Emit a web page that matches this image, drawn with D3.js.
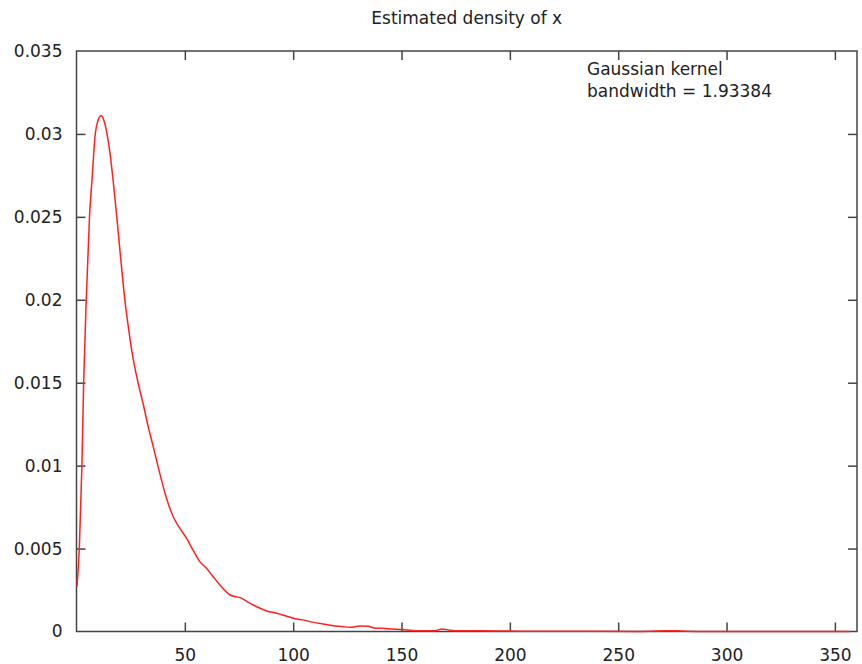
<!DOCTYPE html>
<html>
<head>
<meta charset="utf-8">
<script src="https://cdn.jsdelivr.net/npm/d3@7"></script>
<style>
  html, body { margin: 0; padding: 0; background: #fff; }
  svg { display: block; }
  text { font-family: "DejaVu Sans", sans-serif; fill: #222; }
</style>
</head>
<body>
<svg id="chart" width="862" height="664"></svg>
<script>
// ---- data ----
const xValues = [0.2, 1.3, 2.5, 3.3, 4.5, 6.0, 7.3, 8.5, 9.9, 11.3, 12.7, 14.1, 15.5, 16.9, 18.6, 20.1,
  22.4, 24.2, 26.2, 28.4, 30.8, 33.0, 35.5, 38.5, 41.6, 44.7, 47.8, 50.9, 53.8, 57.0, 60.1, 63.1, 66.2,
  70.9, 73.6, 76.3, 78.7, 81.6, 84.7, 87.8, 92.4, 96.2, 100.1, 104.5, 109.3, 113.8, 118.5, 122.5, 126.2,
  130.9, 134.5, 138.2, 141.0, 145.6, 150.5, 154.9, 159.0, 165.5, 168.7, 172.2, 177.0, 185.3, 195.5,
  204.7, 213.9, 223.2, 232.4, 241.6, 260.1, 271.6, 275.3, 279.0, 287.8, 310.8, 333.9, 357.0];
const densityValues = [0.0027, 0.0050, 0.0100, 0.0150, 0.0200, 0.0250, 0.0275, 0.0298, 0.0308, 0.0311,
  0.0308, 0.0300, 0.0288, 0.0272, 0.0250, 0.0229, 0.0199, 0.0181, 0.0164, 0.0150, 0.0137, 0.0124,
  0.0111, 0.0095, 0.0080, 0.0069, 0.0062, 0.0056, 0.0049, 0.0042, 0.0038, 0.0033, 0.0028,
  0.00220, 0.00210, 0.00200, 0.00180, 0.00160, 0.00140, 0.00124, 0.00110, 0.00095, 0.00080, 0.00070,
  0.00055, 0.00045, 0.00035, 0.00030, 0.00025, 0.00033, 0.00031, 0.00020, 0.00020, 0.00015, 0.00012,
  0.00006, 0.00004, 0.00005, 0.00015, 0.00008, 0.00004, 0.00004, 0.00003, 0.00002, 0.00001, 0.00001,
  0.00001, 0.00001, 0.000005, 0.00004, 0.00005, 0.00003, 0.000005, 0.000003, 0.000002, 0.000002];
const xTicks = [50, 100, 150, 200, 250, 300, 350];
const yTicks = [0, 0.005, 0.01, 0.015, 0.02, 0.025, 0.03, 0.035];
const yTickLabels = ["0", "0.005", "0.01", "0.015", "0.02", "0.025", "0.03", "0.035"];
const titleText = "Estimated density of x";
const legendLines = ["Gaussian kernel", "bandwidth = 1.93384"];

// ---- layout ----
const svg = d3.select("#chart");
const pLeft = 76.5, pRight = 857, pTop = 51, pBottom = 631.5;
const x = d3.scaleLinear().domain([0, 360.2]).range([pLeft, pRight]);
const y = d3.scaleLinear().domain([0, 0.035]).range([pBottom, pTop]);
const tickLen = 9;
const fs = 17;

// border
svg.append("rect")
  .attr("x", pLeft).attr("y", pTop)
  .attr("width", pRight - pLeft).attr("height", pBottom - pTop)
  .attr("fill", "none").attr("stroke", "#444").attr("stroke-width", 1.5);

// axes (ticks inward, mirrored)
const xAxisB = d3.axisBottom(x).tickValues(xTicks).tickSize(-tickLen).tickPadding(tickLen + 8);
const gxb = svg.append("g").attr("transform", `translate(0,${pBottom})`).call(xAxisB);
const xAxisT = d3.axisTop(x).tickValues(xTicks).tickSize(-tickLen).tickFormat("");
const gxt = svg.append("g").attr("transform", `translate(0,${pTop})`).call(xAxisT);
const yAxisL = d3.axisLeft(y).tickValues(yTicks).tickSize(-tickLen)
  .tickFormat((d, i) => yTickLabels[i]).tickPadding(tickLen + 5);
const gyl = svg.append("g").attr("transform", `translate(${pLeft},0)`).call(yAxisL);
const yAxisR = d3.axisRight(y).tickValues(yTicks).tickSize(-tickLen).tickFormat("");
const gyr = svg.append("g").attr("transform", `translate(${pRight},0)`).call(yAxisR);

[gxb, gxt, gyl, gyr].forEach(g => {
  g.select(".domain").remove();
  g.selectAll(".tick line").attr("stroke", "#444").attr("stroke-width", 1.5);
  g.selectAll(".tick text").attr("font-family", "DejaVu Sans").attr("font-size", fs).attr("fill", "#222");
});
// tick marks at 0 and 0.035 fall on the border
gyl.selectAll(".tick").filter(d => d === 0 || d === 0.035).select("line").remove();
gyr.selectAll(".tick").filter(d => d === 0 || d === 0.035).select("line").remove();

// density curve
const pts = xValues.map((v, i) => [v, densityValues[i]]);
const line = d3.line().x(d => x(d[0])).y(d => y(d[1])).curve(d3.curveMonotoneX);
svg.append("path")
  .datum(pts)
  .attr("d", line)
  .attr("fill", "none")
  .attr("stroke", "#ff2020")
  .attr("stroke-width", 1.5);

// title
svg.append("text")
  .attr("x", (pLeft + pRight) / 2).attr("y", 24)
  .attr("text-anchor", "middle")
  .attr("font-size", fs)
  .text(titleText);

// legend text
svg.append("g").selectAll("text")
  .data(legendLines)
  .join("text")
  .attr("x", 587)
  .attr("y", (d, i) => 75 + i * 21.5)
  .attr("font-size", fs)
  .text(d => d);
</script>
</body>
</html>
